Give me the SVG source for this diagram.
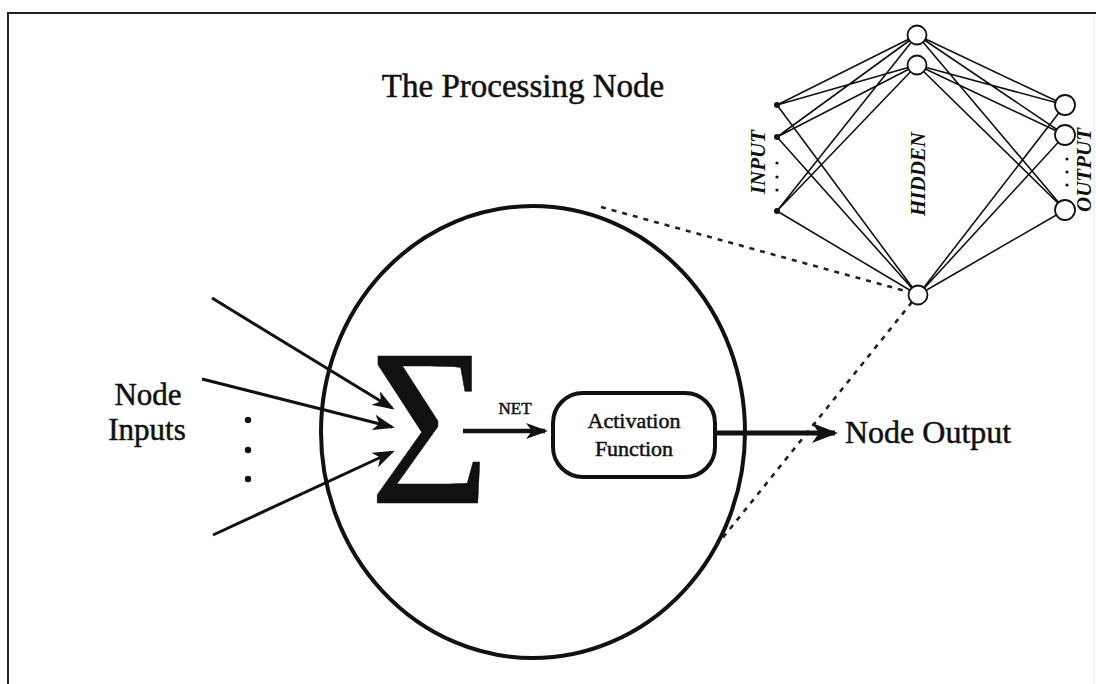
<svg xmlns="http://www.w3.org/2000/svg" width="1096" height="684" viewBox="0 0 1096 684">
  <style>
    .serif { font-family: "Liberation Serif", "Times New Roman", serif; fill: #111; stroke: #111; stroke-width: 0.5; }
    .bi { font-family: "Liberation Serif", "Times New Roman", serif; font-weight: bold; font-style: italic; font-size: 21px; fill: #111; }
    .net-line { stroke: #111; stroke-width: 1.6; fill: none; }
    .unit { fill: #fff; stroke: #111; stroke-width: 1.8; }
    .dash { stroke: #222; stroke-width: 2.6; stroke-dasharray: 5 6; fill: none; }
    .thick { stroke: #111; fill: none; }
  </style>
  <defs>
    <marker id="head" viewBox="0 0 22 16" refX="19" refY="8" markerWidth="22" markerHeight="16" markerUnits="userSpaceOnUse" orient="auto">
      <path d="M0,0 L22,8 L0,16 L6,8 Z" fill="#111"/>
    </marker>
    <marker id="headBig" viewBox="0 0 26 20" refX="23" refY="10" markerWidth="26" markerHeight="20" markerUnits="userSpaceOnUse" orient="auto">
      <path d="M0,0 L26,10 L0,20 L7,10 Z" fill="#111"/>
    </marker>
  </defs>

  <rect width="1096" height="684" fill="#fff"/>

  <!-- outer frame -->
  <g id="frame">
    <path d="M8,684 L8,13 L1096,13" fill="none" stroke="#222" stroke-width="2"/>
    <line x1="1094" y1="14" x2="1094" y2="684" stroke="#eee" stroke-width="1.5"/>
  </g>

  <text class="serif" x="523" y="97" font-size="33" text-anchor="middle">The Processing Node</text>

  <!-- processing node body -->
  <g id="node-body">
    <ellipse cx="533" cy="432" rx="212" ry="226" fill="none" stroke="#111" stroke-width="4"/>
  </g>

  <!-- magnification guide lines -->
  <g id="zoom-guides">
    <path class="dash" d="M601,207 L909,292"/>
    <path class="dash" d="M912,302 L717,545"/>
  </g>

  <!-- summation -->
  <g id="sum">
    <text class="serif" x="0" y="0" font-size="224" stroke-width="0" transform="translate(369,503) scale(0.93,1)">Σ</text>
  </g>

  <g id="inputs-label">
    <text class="serif" x="148" y="405" font-size="31" text-anchor="middle">Node</text>
    <text class="serif" x="147" y="440" font-size="31" text-anchor="middle">Inputs</text>
    <circle cx="248" cy="420" r="3.2" fill="#111"/>
    <circle cx="248" cy="450" r="3.2" fill="#111"/>
    <circle cx="248" cy="479" r="3.2" fill="#111"/>
  </g>

  <g id="activation">
    <rect x="553" y="393" width="162" height="84" rx="30" ry="30" fill="none" stroke="#111" stroke-width="4"/>
    <text class="serif" x="634" y="428" font-size="22" text-anchor="middle">Activation</text>
    <text class="serif" x="634" y="456" font-size="22" text-anchor="middle">Function</text>
  </g>

  <g id="output-label">
    <text class="serif" x="845" y="443" font-size="32">Node Output</text>
  </g>

  <!-- connectors -->
  <g id="connectors">
    <line class="thick" stroke-width="3" x1="212" y1="298" x2="392" y2="408" marker-end="url(#head)"/>
    <line class="thick" stroke-width="3" x1="202" y1="379" x2="392" y2="427" marker-end="url(#head)"/>
    <line class="thick" stroke-width="3" x1="213" y1="535" x2="392" y2="452" marker-end="url(#head)"/>
    <line class="thick" stroke-width="4.5" x1="463" y1="431" x2="545" y2="431" marker-end="url(#head)"/>
    <text class="serif" x="515" y="414" font-size="17" text-anchor="middle">NET</text>
    <line class="thick" stroke-width="5" x1="717" y1="433" x2="835" y2="433" marker-end="url(#headBig)"/>
  </g>

  <!-- small network -->
  <g id="network">
    <g id="net-links">
      <path class="net-line" d="M777,105 L917,35 M777,105 L917,65 M777,105 L918,295
        M777,137 L917,35 M777,137 L917,65 M777,137 L918,295
        M777,211 L917,35 M777,211 L917,65 M777,211 L918,295
        M917,35 L1065,105 M917,35 L1065,135 M917,35 L1065,210
        M917,65 L1065,105 M917,65 L1065,135 M917,65 L1065,210
        M918,295 L1065,105 M918,295 L1065,135 M918,295 L1065,210"/>
    </g>
    <g id="input-units" fill="#111">
      <circle cx="777" cy="105" r="3"/>
      <circle cx="777" cy="137" r="3"/>
      <circle cx="777" cy="211" r="3"/>
      <circle cx="777" cy="163" r="1.6"/>
      <circle cx="777" cy="177" r="1.6"/>
      <circle cx="777" cy="190" r="1.6"/>
    </g>
    <g id="hidden-units">
      <circle class="unit" cx="917" cy="35" r="9.5"/>
      <circle class="unit" cx="917" cy="65" r="9.5"/>
      <circle class="unit" cx="918" cy="295" r="9.5"/>
    </g>
    <g id="output-units">
      <circle class="unit" cx="1065" cy="105" r="10"/>
      <circle class="unit" cx="1065" cy="135" r="10"/>
      <circle class="unit" cx="1065" cy="210" r="10"/>
      <circle cx="1067" cy="159" r="1.6" fill="#111"/>
      <circle cx="1067" cy="172" r="1.6" fill="#111"/>
      <circle cx="1067" cy="185" r="1.6" fill="#111"/>
    </g>
    <text class="bi" transform="translate(765,162) rotate(-90)" text-anchor="middle">INPUT</text>
    <text class="bi" transform="translate(925,174) rotate(-90)" text-anchor="middle">HIDDEN</text>
    <text class="bi" font-size="17" transform="translate(1091,170) rotate(-90)" text-anchor="middle">OUTPUT</text>
  </g>
</svg>
